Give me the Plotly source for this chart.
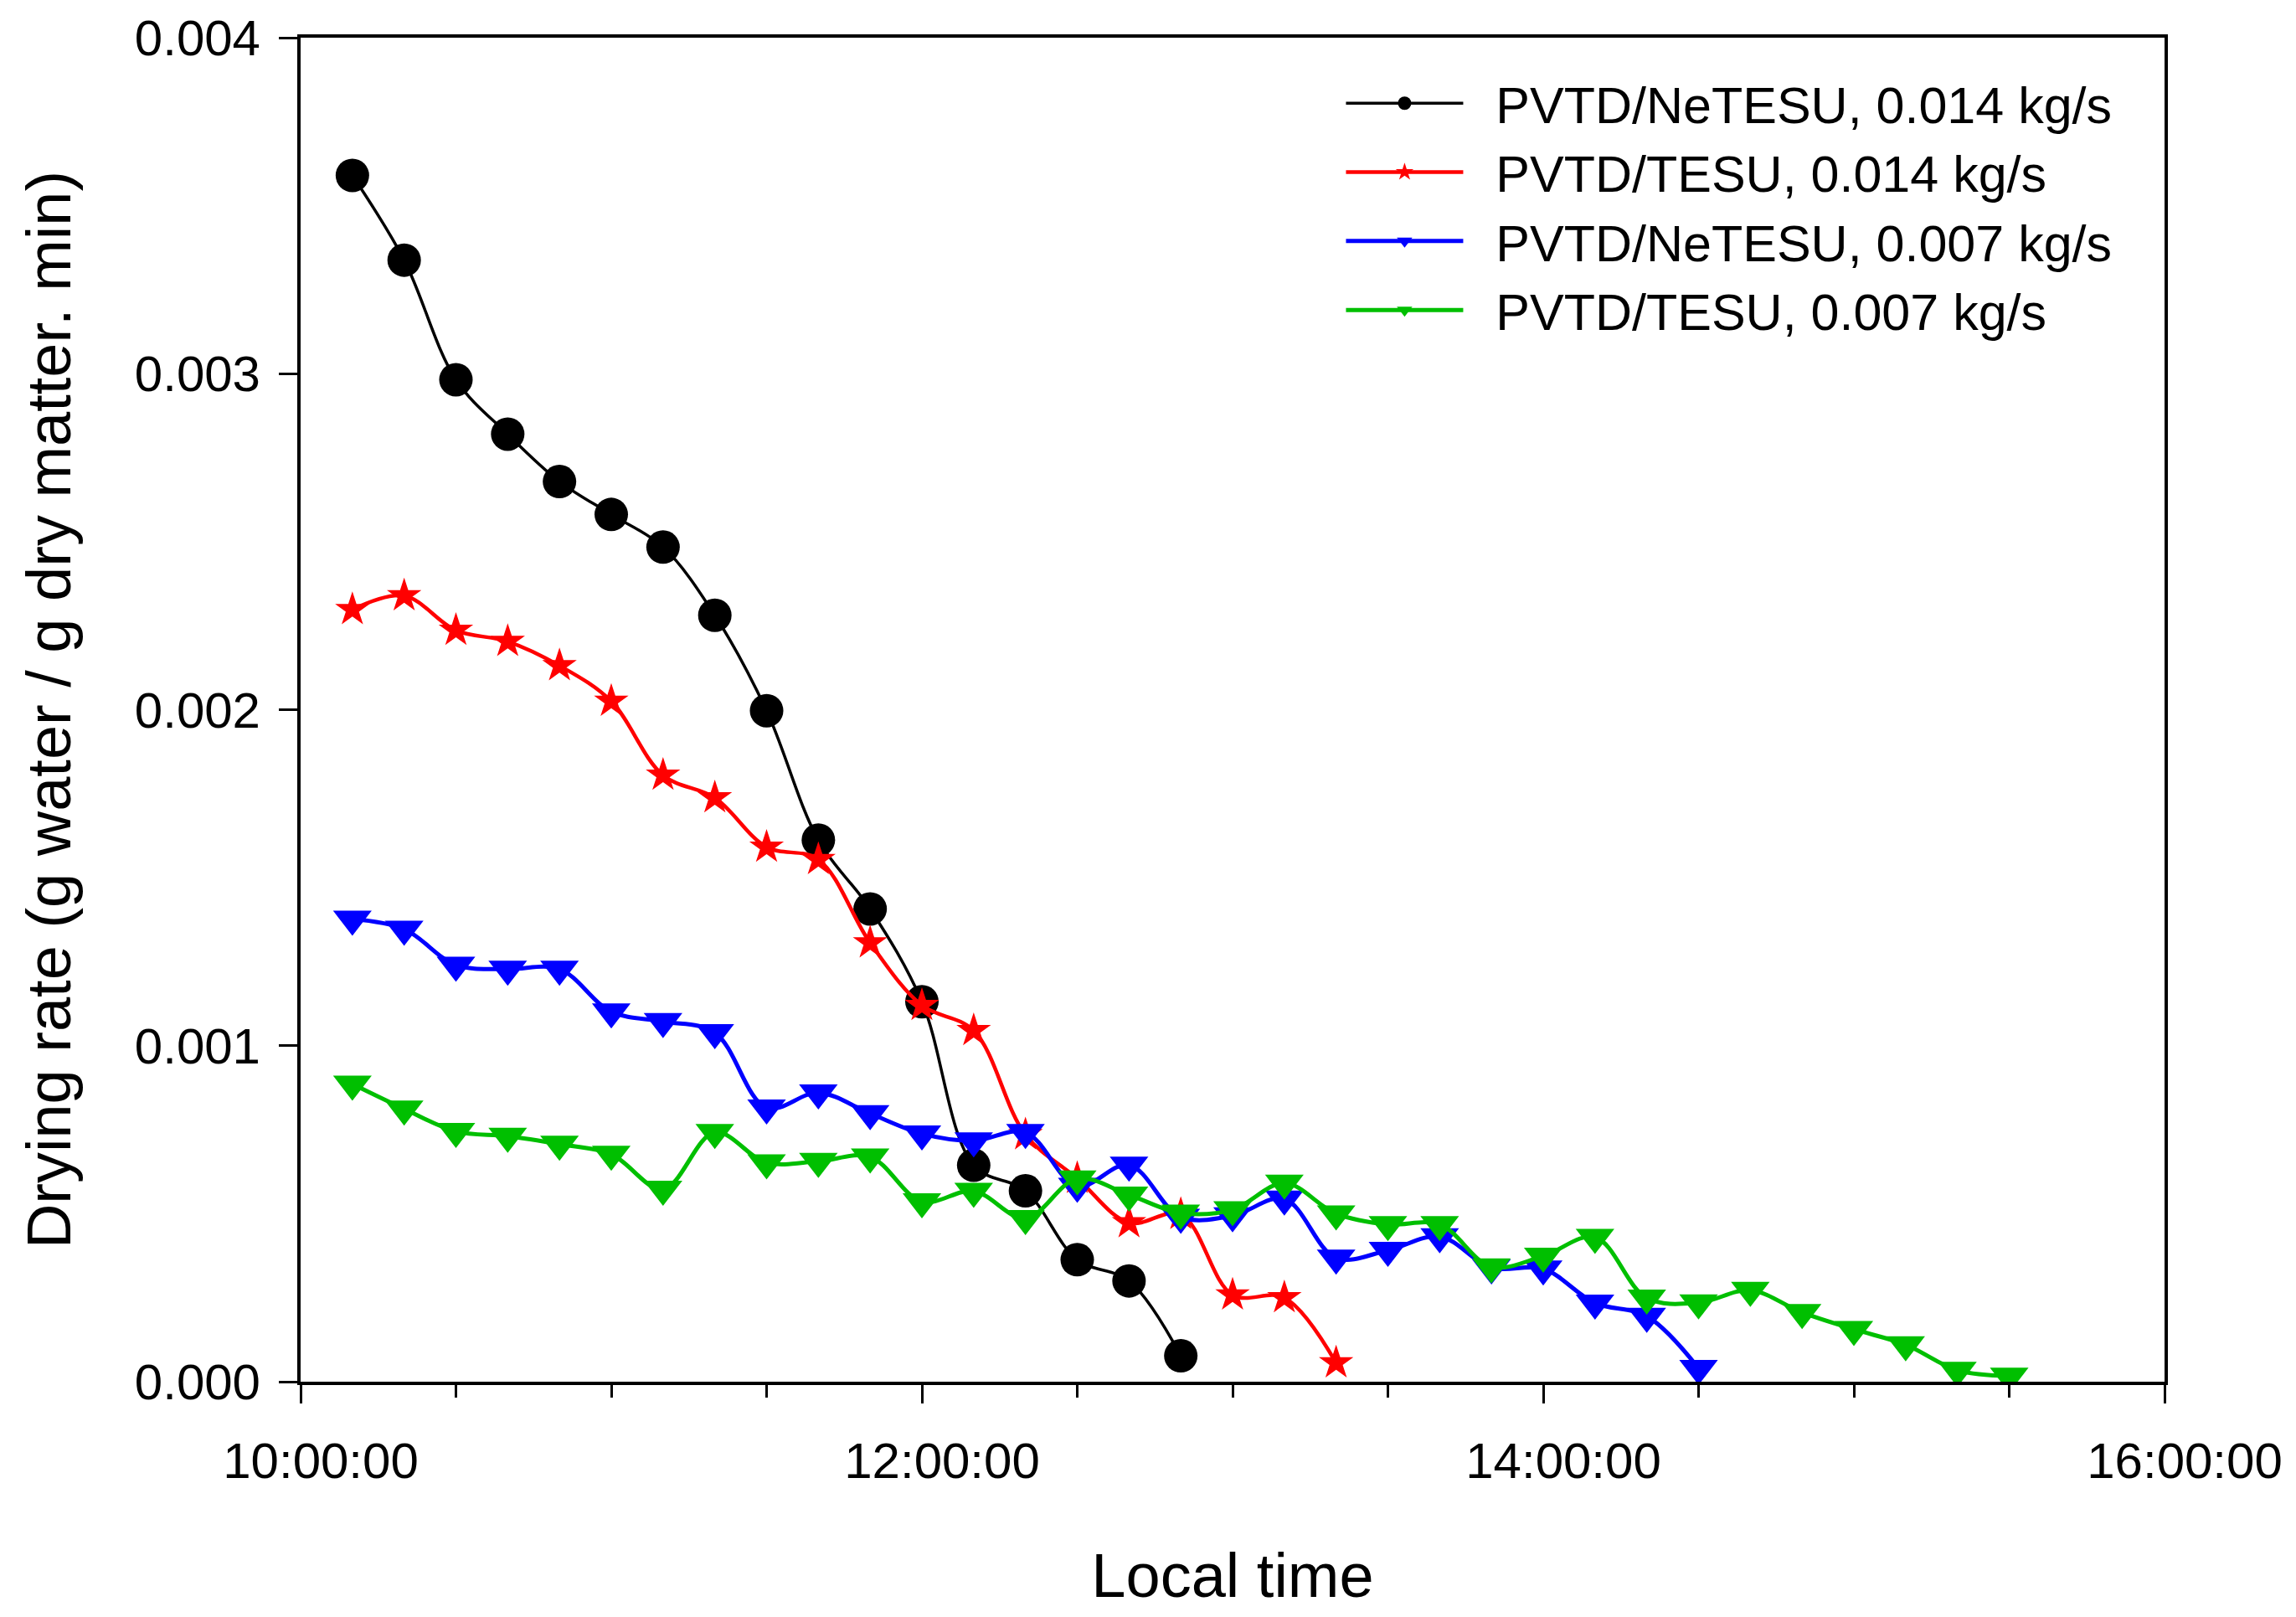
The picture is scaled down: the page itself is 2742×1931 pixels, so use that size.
import plotly.graph_objects as go

# ---- data ----
times = ["10:10", "10:20", "10:30", "10:40", "10:50", "11:00", "11:10", "11:20",
         "11:30", "11:40", "11:50", "12:00", "12:10", "12:20", "12:30", "12:40",
         "12:50", "13:00", "13:10", "13:20", "13:30", "13:40", "13:50", "14:00",
         "14:10", "14:20", "14:30", "14:40", "14:50", "15:00", "15:10", "15:20",
         "15:30"]

netesu_014 = [0.003590, 0.003338, 0.002982, 0.002820, 0.002679, 0.002581, 0.002484,
              0.002281, 0.001997, 0.001612, 0.001407, 0.001131, 0.000644, 0.000568,
              0.000363, 0.000300, 0.000077]

tesu_014 = [0.002298, 0.002339, 0.002236, 0.002203, 0.002131, 0.002025, 0.001805,
            0.001738, 0.001591, 0.001554, 0.001306, 0.001120, 0.001045, 0.000735,
            0.000605, 0.000473, 0.000498, 0.000258, 0.000250, 0.000056]

netesu_007 = [0.001377, 0.001347, 0.001240, 0.001228, 0.001228, 0.001101, 0.001072,
              0.001039, 0.000815, 0.000860, 0.000798, 0.000738, 0.000717, 0.000742,
              0.000582, 0.000645, 0.000490, 0.000494, 0.000544, 0.000368, 0.000391,
              0.000432, 0.000339, 0.000336, 0.000234, 0.000195, 0.000040]

tesu_007 = [0.000886, 0.000812, 0.000745, 0.000731, 0.000707, 0.000677, 0.000573,
            0.000742, 0.000652, 0.000656, 0.000669, 0.000536, 0.000567, 0.000486,
            0.000604, 0.000556, 0.000502, 0.000512, 0.000591, 0.000500, 0.000468,
            0.000468, 0.000342, 0.000374, 0.000430, 0.000249, 0.000235, 0.000272,
            0.000206, 0.000156, 0.000110, 0.000034, 0.000017]

series_names = ["PVTD/NeTESU, 0.014 kg/s", "PVTD/TESU, 0.014 kg/s",
                "PVTD/NeTESU, 0.007 kg/s", "PVTD/TESU, 0.007 kg/s"]
series_values = [netesu_014, tesu_014, netesu_007, tesu_007]

y_ticks = [0.000, 0.001, 0.002, 0.003, 0.004]
x_tick_hours = ["10:00:00", "12:00:00", "14:00:00", "16:00:00"]

DAY = "2000-01-01 "

# ---- styles ----
colors = ["#000000", "#FF0000", "#0000FF", "#00BF00"]
symbols = ["circle", "star", "triangle-down", "triangle-down"]
sizes = [40, 31, 40, 40]
widths = [3.5, 4.5, 5, 5]

FONT = "Liberation Sans, Arial, sans-serif"
NBSP = "\u00a0\u00a0"

fig = go.Figure()
for name, vals, c, s, sz, w in zip(series_names, series_values, colors, symbols, sizes, widths):
    xs = [DAY + t + ":00" for t in times[:len(vals)]]
    fig.add_trace(go.Scatter(
        x=xs, y=vals, name=NBSP + name, mode="lines+markers",
        line=dict(color=c, width=w, shape="spline", smoothing=1.0),
        marker=dict(symbol=s, size=sz, color=c, line=dict(width=0)),
    ))

fig.update_layout(
    width=2726, height=1915,
    paper_bgcolor="white", plot_bgcolor="white",
    margin=dict(l=351, r=149, t=37, b=273, autoexpand=False),
    font=dict(family=FONT, size=60, color="black"),
    showlegend=True,
    legend=dict(
        x=0.5586, y=0.980, xanchor="left", yanchor="top",
        font=dict(family=FONT, size=61, color="black"),
        bgcolor="rgba(0,0,0,0)", borderwidth=0,
        itemwidth=140, tracegroupgap=0,
    ),
)

fig.update_xaxes(
    type="date",
    range=[DAY + x_tick_hours[0], DAY + x_tick_hours[-1]],
    tickvals=[DAY + h for h in x_tick_hours],
    ticktext=x_tick_hours,
    ticks="outside", ticklen=22, tickwidth=3, tickcolor="black",
    minor=dict(dtick=1800000, ticks="outside", ticklen=15, tickwidth=3, tickcolor="black", showgrid=False),
    showline=True, linewidth=4, linecolor="black", mirror=True,
    showgrid=False, zeroline=False,
    tickfont=dict(family=FONT, size=60, color="black"),
    ticklabelstandoff=17,
    ticklabelshift=24,
    title=dict(text="Local time", font=dict(family=FONT, size=74, color="black"), standoff=81),
    automargin=False,
)

fig.update_yaxes(
    range=[0, 0.004],
    tickvals=y_ticks,
    tickformat=".3f",
    ticks="outside", ticklen=22, tickwidth=3, tickcolor="black",
    showline=True, linewidth=4, linecolor="black", mirror=True,
    showgrid=False, zeroline=False,
    tickfont=dict(family=FONT, size=60, color="black"),
    ticklabelstandoff=10,
    title=dict(text="Drying rate (g water / g dry matter. min)",
               font=dict(family=FONT, size=74, color="black"), standoff=53),
    automargin=False,
)

fig.write_html("out.html")
